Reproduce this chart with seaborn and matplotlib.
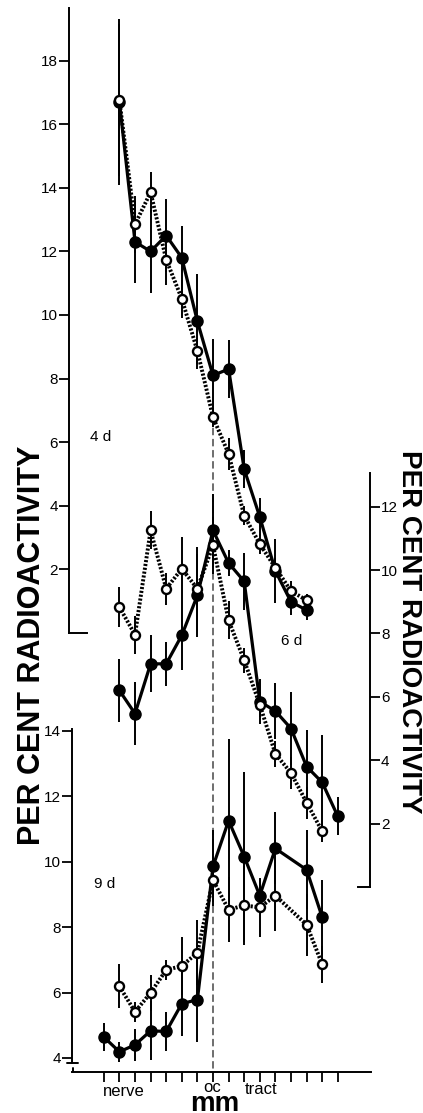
import pandas as pd
import matplotlib
matplotlib.use("Agg")
import matplotlib.pyplot as plt
import seaborn as sns
from matplotlib.patches import ConnectionPatch

# distance along nerve / tract in mm, optic chiasm (oc) at 7
mm_4d = list(range(1, 14))
closed_4d = [16.7, 12.3, 12.0, 12.5, 11.8, 9.8, 8.1, 8.3, 5.15, 3.65, 1.95, 0.98, 0.72]
closed_4d_err = [2.6, 1.3, 1.3, 1.15, 1.0, 1.5, 1.15, 0.9, 0.6, 0.6, 1.0, 0.4, 0.3]
open_4d = [16.76, 12.85, 13.86, 11.74, 10.51, 8.87, 6.79, 5.63, 3.69, 2.8, 2.05, 1.32, 1.03]
open_4d_err = [2.4, 0.9, 0.65, 0.8, 0.6, 0.4, 0.3, 0.5, 0.3, 0.3, 0.3, 0.3, 0.2]

mm_6d_closed = list(range(1, 16))
closed_6d = [6.2, 5.47, 7.04, 7.04, 7.94, 9.2, 11.25, 10.22, 9.64, 5.85, 5.55, 5.0, 3.8, 3.3, 2.23]
closed_6d_err = [1.0, 1.0, 0.9, 0.7, 1.1, 1.3, 1.15, 0.4, 0.9, 0.7, 0.87, 1.15, 1.15, 1.5, 0.6]
mm_6d_open = list(range(1, 15))
open_6d = [8.83, 7.96, 11.25, 9.41, 10.04, 9.41, 10.78, 8.41, 7.15, 5.75, 4.2, 3.6, 2.66, 1.76]
open_6d_err = [0.63, 0.6, 0.6, 0.5, 1.0, 1.3, 0.9, 0.6, 0.4, 0.4, 0.4, 0.5, 0.5, 0.35]

mm_9d_closed = [0, 1, 2, 3, 4, 5, 6, 7, 8, 9, 10, 11, 13, 14]
closed_9d = [4.64, 4.19, 4.4, 4.83, 4.81, 5.66, 5.78, 9.85, 11.25, 10.15, 8.96, 10.4, 9.75, 8.3]
closed_9d_err = [0.42, 0.3, 0.5, 0.9, 0.6, 1.0, 1.3, 1.1, 2.5, 2.6, 0.5, 1.1, 1.2, 1.15]
mm_9d_open = [1, 2, 3, 4, 5, 6, 7, 8, 9, 10, 11, 13, 14]
open_9d = [6.19, 5.41, 5.99, 6.69, 6.81, 7.22, 9.43, 8.53, 8.66, 8.6, 8.96, 8.07, 6.86]
open_9d_err = [0.67, 0.3, 0.56, 0.3, 0.9, 1.0, 0.8, 1.0, 1.2, 0.9, 1.08, 0.95, 0.56]

sns.set_style("ticks")
plt.rcParams["font.family"] = ["Liberation Sans", "DejaVu Sans"]
plt.rcParams.update({"text.color": "black", "xtick.color": "black",
                     "ytick.color": "black", "axes.edgecolor": "black"})

W, H = 423, 1113
fig = plt.figure(figsize=(W / 100, H / 100), dpi=100)


def rect(l, r, t, b):
    return [l / W, 1 - b / H, (r - l) / W, (b - t) / H]


def mm_range(l, r):
    # 15.6 px per mm, chiasm tick at x = 213 px
    return (7 + (l - 213) / 15.6, 7 + (r - 213) / 15.6)


def panel(ax, mm_c, closed, closed_err, mm_o, opn, opn_err):
    c = pd.DataFrame({"mm": mm_c, "pct": closed, "err": closed_err})
    o = pd.DataFrame({"mm": mm_o, "pct": opn, "err": opn_err})
    ax.vlines(o.mm, o.pct - o.err, o.pct + o.err, color="black", lw=1.4, zorder=1)
    ax.vlines(c.mm, c.pct - c.err, c.pct + c.err, color="black", lw=1.4, zorder=1)
    sns.lineplot(data=o, x="mm", y="pct", ax=ax, color="black", lw=2.8,
                 ls=(0, (0.55, 0.45)), marker="o", ms=6.5, mfc="white",
                 mec="black", mew=1.7, zorder=3)
    sns.lineplot(data=c, x="mm", y="pct", ax=ax, color="black", lw=2.3,
                 marker="o", ms=8, mfc="black", mec="black", mew=1, zorder=2)
    ax.set(xlabel="", ylabel="")
    ax.patch.set_alpha(0)
    ax.tick_params(length=7, width=1.3, pad=1, labelsize=11, direction="out")
    for s in ax.spines.values():
        s.set_linewidth(1.4)


# 4 days
ax4 = fig.add_axes(rect(69, 371, 8, 633))
panel(ax4, mm_4d, closed_4d, closed_4d_err, mm_4d, open_4d, open_4d_err)
x0, x1 = mm_range(69, 371)
ax4.set_xlim(x0, x1)
ax4.set_ylim(0, 625 / 31.8)
ax4.set_yticks(range(2, 19, 2))
ax4.set_xticks([])
ax4.spines[["top", "right"]].set_visible(False)
ax4.spines["bottom"].set_bounds(x0, x0 + 18 / 15.6)

# 6 days, scale on the right
ax6 = fig.add_axes(rect(69, 370, 473, 887))
panel(ax6, mm_6d_closed, closed_6d, closed_6d_err, mm_6d_open, open_6d, open_6d_err)
x0, x1 = mm_range(69, 370)
ax6.set_xlim(x0, x1)
ax6.set_ylim(0, 414 / 31.7)
ax6.yaxis.tick_right()
ax6.set_yticks(range(2, 13, 2))
ax6.set_xticks([])
ax6.spines[["top", "left"]].set_visible(False)
ax6.spines["right"].set_visible(True)
ax6.spines["bottom"].set_bounds(x1 - 12 / 15.6, x1)

# 9 days
ax9 = fig.add_axes(rect(72, 371, 729, 1072))
panel(ax9, mm_9d_closed, closed_9d, closed_9d_err, mm_9d_open, open_9d, open_9d_err)
x0, x1 = mm_range(72, 371)
ax9.set_xlim(x0, x1)
y0 = 4 - 14 / 32.7
ax9.set_ylim(y0, 14.05)
ax9.set_yticks(range(4, 15, 2))
ax9.set_xticks(range(16))
ax9.set_xticklabels([])
ax9.spines[["top", "right"]].set_visible(False)
brk = 4 - 5 / 32.7
ax9.spines["left"].set_bounds(brk, 14.05)
ax9.plot([x0 - 5 / 15.6, x0 + 6 / 15.6], [brk, brk], color="black", lw=1.4, clip_on=False)
ax9.plot([x0 + 1 / 15.6, x0 + 1 / 15.6], [y0, y0 + 4 / 32.7], color="black", lw=1.4, clip_on=False)

# dashed line at the chiasm
con = ConnectionPatch(xyA=(7, open_4d[6]), coordsA=ax4.transData,
                      xyB=(7, y0), coordsB=ax9.transData,
                      color="black", lw=0.8, ls=(0, (6, 4)), zorder=0)
fig.add_artist(con)


def ftext(x, y, s, **kw):
    fig.text(x / W, 1 - y / H, s, ha="center", va="center", **kw)


ftext(101, 437, "4 d", fontsize=11)
ftext(292, 641, "6 d", fontsize=11)
ftext(105, 884, "9 d", fontsize=11)
ftext(124, 1092, "nerve", fontsize=12)
ftext(212, 1088, "oc", fontsize=12)
ftext(261, 1090, "tract", fontsize=12)
fig.text(215 / W, 1 - 1091 / H, "mm", ha="center", va="top", fontsize=20, fontweight="bold")
ftext(32, 645, "PER CENT RADIOACTIVITY", rotation=90, fontsize=22, fontweight="bold")
ftext(409, 632, "PER CENT RADIOACTIVITY", rotation=-90, fontsize=20, fontweight="bold")

fig.savefig("out.png", dpi=100)
